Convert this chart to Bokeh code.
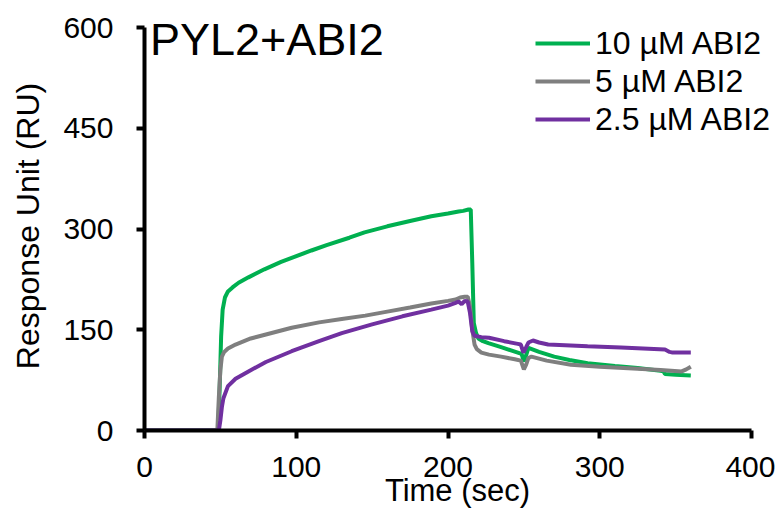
from bokeh.plotting import figure
from bokeh.models import Range1d, Legend, LegendItem, Label, FixedTicker
from bokeh.embed import file_html
from bokeh.resources import INLINE

FONT = "Liberation Sans"

# ---- data ----
t_10 = [0, 48.5, 49.5, 50.5, 51.5, 53, 55, 58, 62, 68.5, 79, 90, 97, 110, 120, 135, 145, 160, 175, 189, 200, 207, 210,
        213.5, 215, 216, 217, 218.5, 220, 223, 226.6, 235, 246, 248.5, 250, 251.5, 253, 260, 270, 280, 292, 310, 325,
        340, 342, 343, 350, 360]
v_10 = [0, 0, 60, 140, 180, 198, 207, 213, 220, 228, 240, 251, 257, 268, 276, 287, 295, 304, 312, 319, 323, 326, 327,
        329, 329, 250, 160, 145, 137, 133, 130, 124, 116, 114, 103, 112, 123, 117, 110, 105, 100, 96, 93,
        89, 88, 84, 83, 82]

t_5 = [0, 48, 49, 50, 51, 52.5, 55, 60, 70, 80, 97, 115, 130, 145.5, 160, 175, 189, 200, 205, 208, 211, 213, 214.5,
       216, 217.5, 219, 222, 227, 235, 244, 248, 250, 251.5, 253, 255, 265, 281, 300, 325, 340, 354, 357, 360]
v_5 = [0, 0, 50, 90, 110, 117, 122, 128, 137, 143, 153, 161, 166, 171, 177, 183, 189, 193, 195, 198, 199, 199, 185,
       150, 128, 121, 116, 113, 110, 106, 104, 91, 98, 108, 110, 104, 98, 95, 92, 90, 88, 91, 95]

t_25 = [0, 49, 50, 51, 52, 55, 60, 68.5, 80, 97, 115, 130, 150, 170, 189, 200, 205, 207, 209, 211, 213, 214.5, 216,
        217.5, 222, 227, 237, 246, 248, 249.7, 251.5, 253, 256, 260, 266, 292, 314, 343, 346, 348, 360]
v_25 = [0, 0, 15, 35, 48, 66, 77, 88, 102, 118, 133, 145, 158, 170, 180, 186, 190, 192, 188, 193, 192, 175, 148,
        141, 139, 138, 133, 129, 128, 116, 124, 131, 134, 131, 128, 125.5, 123.5, 120.5, 117, 116, 116]

series_labels = ["10 \u00b5M ABI2", "5 \u00b5M ABI2", "2.5 \u00b5M ABI2"]
colors = ["#00B050", "#7F7F7F", "#7030A0"]
x_ticks = [0, 100, 200, 300, 400]
y_ticks = [0, 150, 300, 450, 600]
x_axis_span = (0, 400)
y_axis_span = (0, 600)

# frame is a bit larger than the axes so title/legend are not clipped
W, H = 775, 510
BL, BR, BT, BB = 144, 5, 21, 80
fw = W - BL - BR
fh = H - BT - BB
x_end = 400 * fw / 607.0
y_end = 600 * fh / 403.0

p = figure(width=W, height=H, output_backend="svg", toolbar_location=None,
           x_range=Range1d(0, x_end), y_range=Range1d(0, y_end),
           min_border_left=BL, min_border_right=BR, min_border_top=BT, min_border_bottom=BB)
p.outline_line_color = None
p.grid.grid_line_color = None
p.background_fill_color = "white"
p.border_fill_color = "white"

r10 = p.line(t_10, v_10, line_color=colors[0], line_width=4)
r5 = p.line(t_5, v_5, line_color=colors[1], line_width=4)
r25 = p.line(t_25, v_25, line_color=colors[2], line_width=4)

for ax in (p.xaxis[0], p.yaxis[0]):
    ax.axis_line_width = 4
    ax.axis_line_color = "black"
    ax.major_tick_line_width = 4
    ax.major_tick_line_color = "black"
    ax.major_tick_out = 8
    ax.major_tick_in = 0
    ax.minor_tick_line_color = None
    ax.major_label_text_font = FONT
    ax.major_label_text_font_size = "30px"
    ax.major_label_text_color = "black"
    ax.axis_label_text_font = FONT
    ax.axis_label_text_font_style = "normal"
    ax.axis_label_text_color = "black"

p.xaxis.bounds = x_axis_span
p.yaxis.bounds = y_axis_span
p.xaxis.ticker = FixedTicker(ticks=x_ticks)
p.yaxis.ticker = FixedTicker(ticks=y_ticks)
p.xaxis.major_label_standoff = 18
p.yaxis.major_label_standoff = 23
p.yaxis.axis_label = "Response Unit (RU)"
p.yaxis.axis_label_text_font_size = "32px"
p.yaxis.axis_label_standoff = 14
p.xaxis.axis_label = "Time (sec)"
p.xaxis.axis_label_text_font_size = "31px"
p.xaxis.axis_label_standoff = -7

p.add_layout(Label(x=3.6, y=582, text="PYL2+ABI2", text_font=FONT, text_font_size="45px",
                   text_align="left", text_baseline="middle", text_color="black"))

legend = Legend(items=[LegendItem(label=series_labels[0], renderers=[r10]),
                       LegendItem(label=series_labels[1], renderers=[r5]),
                       LegendItem(label=series_labels[2], renderers=[r25])],
                location=(391, 292), border_line_color=None, background_fill_alpha=0,
                label_text_font=FONT, label_text_font_size="32px", label_text_color="black",
                glyph_width=55, glyph_height=38, label_height=38, label_standoff=5,
                spacing=0, padding=0, margin=0)
p.add_layout(legend, "center")

open("out.html", "w").write(file_html(p, INLINE))
